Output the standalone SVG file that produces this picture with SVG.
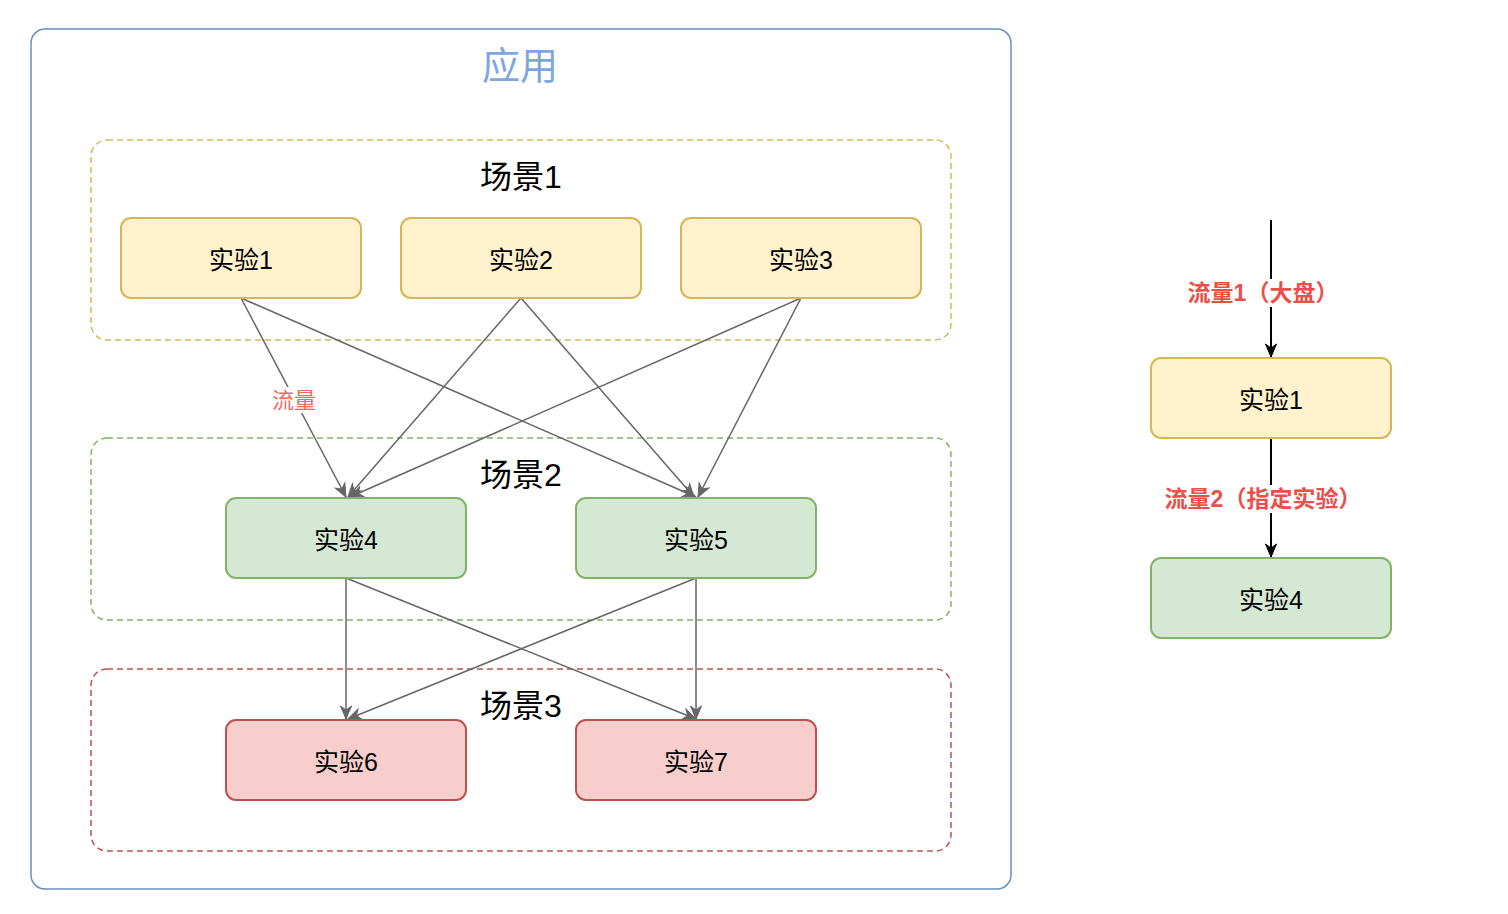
<svg xmlns="http://www.w3.org/2000/svg" width="1508" height="914" viewBox="0 0 1508 914">
<style>
text{font-family:"Liberation Sans","Noto Sans CJK SC",sans-serif;text-anchor:middle;dominant-baseline:central}
.node{stroke-width:2}
.y{fill:#fff2cc;stroke:#d6b656}
.g{fill:#d5e8d4;stroke:#82b366}
.r{fill:#f8cecc;stroke:#b85450}
.nt{font-size:25px;fill:#000}
.scene{fill:none;stroke-width:1.5;stroke-dasharray:6 4}
.st{font-size:32px;fill:#000}
.e{stroke:#666;stroke-width:1.5;fill:none;marker-end:url(#ag)}
.eb{stroke:#000;stroke-width:2;fill:none;marker-end:url(#ab)}
.lbl{fill:#ea4f4a;font-size:23px;font-weight:bold}
</style>
<defs>
<marker id="ag" markerUnits="userSpaceOnUse" markerWidth="16" markerHeight="14" viewBox="-14 -7 16 14" refX="0" refY="0" orient="auto">
<path d="M0,0 L-13,-5.5 L-9,0 L-13,5.5 Z" fill="#666" stroke="#666" stroke-width="1"/>
</marker>
<marker id="ab" markerUnits="userSpaceOnUse" markerWidth="16" markerHeight="14" viewBox="-14 -7 16 14" refX="0" refY="0" orient="auto">
<path d="M0,0 L-13,-5.5 L-9,0 L-13,5.5 Z" fill="#000" stroke="#000" stroke-width="1"/>
</marker>
</defs>
<rect width="1508" height="914" fill="#fff"/>
<g id="app">
<rect x="31" y="29" width="980" height="860" rx="14" fill="#fff" stroke="#6c8ebf" stroke-width="1.5"/>
<text x="520" y="66" font-size="38" fill="#7ea6e0">应用</text>
</g>
<g id="scene1">
<rect class="scene" x="91" y="140" width="860" height="200" rx="16" stroke="#d6b656"/>
<text class="st" x="521" y="177">场景1</text>
</g>
<g id="scene2">
<rect class="scene" x="91" y="438" width="860" height="182" rx="16" stroke="#82b366"/>
<text class="st" x="521" y="475">场景2</text>
</g>
<g id="scene3">
<rect class="scene" x="91" y="669" width="860" height="182" rx="16" stroke="#b85450"/>
<text class="st" x="521" y="706">场景3</text>
</g>
<g id="connectors">
<line class="e" x1="241" y1="298" x2="346" y2="497"/>
<line class="e" x1="241" y1="298" x2="696" y2="497"/>
<line class="e" x1="521" y1="298" x2="348" y2="497"/>
<line class="e" x1="521" y1="298" x2="694" y2="497"/>
<line class="e" x1="801" y1="298" x2="350" y2="497"/>
<line class="e" x1="801" y1="298" x2="698" y2="497"/>
<line class="e" x1="346" y1="578" x2="346" y2="719"/>
<line class="e" x1="346" y1="578" x2="696" y2="719"/>
<line class="e" x1="696" y1="578" x2="348" y2="719"/>
<line class="e" x1="696" y1="578" x2="696" y2="719"/>
<rect x="269" y="387" width="50" height="26" fill="#fff"/>
<text x="294" y="400" font-size="22" fill="#ea6b66">流量</text>
<line class="eb" x1="1271" y1="220" x2="1271" y2="357"/>
<line class="eb" x1="1271" y1="438" x2="1271" y2="557"/>
<rect x="1188" y="279" width="152" height="28" fill="#fff"/>
<text class="lbl" x="1263" y="293">流量1（大盘）</text>
<rect x="1164" y="485" width="198" height="28" fill="#fff"/>
<text class="lbl" x="1263" y="499">流量2（指定实验）</text>
</g>
<g id="exp1"><rect class="node y" x="121" y="218" width="240" height="80" rx="10"/><text class="nt" x="241" y="260">实验1</text></g>
<g id="exp2"><rect class="node y" x="401" y="218" width="240" height="80" rx="10"/><text class="nt" x="521" y="260">实验2</text></g>
<g id="exp3"><rect class="node y" x="681" y="218" width="240" height="80" rx="10"/><text class="nt" x="801" y="260">实验3</text></g>
<g id="exp4"><rect class="node g" x="226" y="498" width="240" height="80" rx="10"/><text class="nt" x="346" y="540">实验4</text></g>
<g id="exp5"><rect class="node g" x="576" y="498" width="240" height="80" rx="10"/><text class="nt" x="696" y="540">实验5</text></g>
<g id="exp6"><rect class="node r" x="226" y="720" width="240" height="80" rx="10"/><text class="nt" x="346" y="762">实验6</text></g>
<g id="exp7"><rect class="node r" x="576" y="720" width="240" height="80" rx="10"/><text class="nt" x="696" y="762">实验7</text></g>
<g id="legend-exp1"><rect class="node y" x="1151" y="358" width="240" height="80" rx="10"/><text class="nt" x="1271" y="400">实验1</text></g>
<g id="legend-exp4"><rect class="node g" x="1151" y="558" width="240" height="80" rx="10"/><text class="nt" x="1271" y="600">实验4</text></g>
</svg>
